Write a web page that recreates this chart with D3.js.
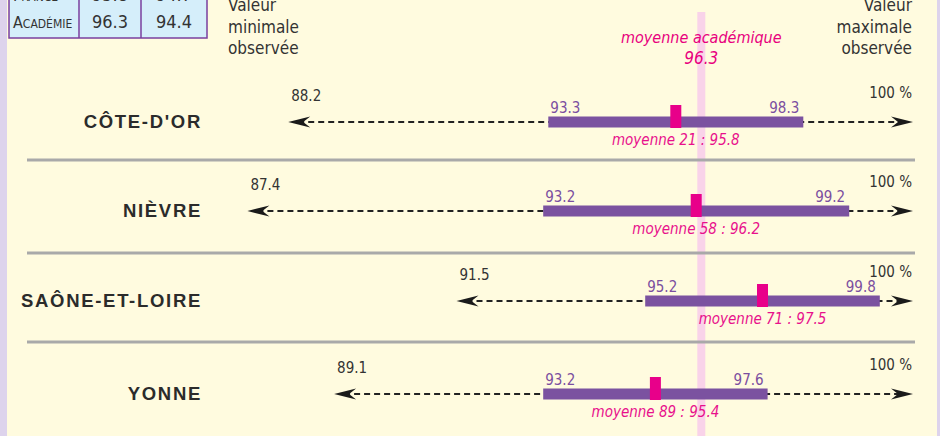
<!DOCTYPE html>
<html>
<head>
<meta charset="utf-8">
<script src="https://cdn.jsdelivr.net/npm/d3@7"></script>
<style>
body { margin: 0; background: #fffbdf; }
svg { display: block; }
text { font-family: "DejaVu Sans Condensed", "Liberation Sans Narrow", "Arial Narrow", sans-serif; }
</style>
</head>
<body>
<script>
const width = 940, height = 436;

// data
const regions = ["CÔTE-D'OR", "NIÈVRE", "SAÔNE-ET-LOIRE", "YONNE"];
const deptCodes = ["21", "58", "71", "89"];
const minObs = [88.2, 87.4, 91.5, 89.1];
const lowBar = [93.3, 93.2, 95.2, 93.2];
const highBar = [98.3, 99.2, 99.8, 97.6];
const deptMean = [95.8, 96.2, 97.5, 95.4];
const maxObs = [100, 100, 100, 100];
const academyMean = 96.3;
const tableRows = ["FRANCE", "ACADÉMIE"];
const tableCol1 = ["95.8", "96.3"];
const tableCol2 = ["94.7", "94.4"];

const rowY = [122, 211, 301, 394];
const sepY = [160, 253, 342];

const svg = d3.select("body").append("svg")
.attr("width", width)
.attr("height", height);

svg.append("rect").attr("width", width).attr("height", height).attr("fill", "#fffbdf");
svg.append("rect").attr("x", 0).attr("width", 7).attr("height", height).attr("fill", "#ddd3ec");
svg.append("rect").attr("x", 937).attr("width", 3).attr("height", height).attr("fill", "#ddd3ec");

const x = d3.scaleLinear().domain([86, 100]).range([176, 890]);

// academy mean band
svg.append("rect")
.attr("x", x(academyMean) - 4).attr("width", 8)
.attr("y", 12).attr("height", height - 12)
.attr("fill", "#f9d3e9");

svg.append("text")
.attr("x", x(academyMean)).attr("y", 43)
.attr("text-anchor", "middle")
.attr("font-size", 16).attr("font-style", "italic")
.attr("fill", "#e8007e")
.text("moyenne académique");
svg.append("text")
.attr("x", x(academyMean)).attr("y", 64)
.attr("text-anchor", "middle")
.attr("font-size", 17).attr("font-style", "italic")
.attr("fill", "#e8007e")
.text(academyMean);

// headers
const hdrL = svg.append("text").attr("font-size", 17).attr("fill", "#333");
["Valeur", "minimale", "observée"].forEach((t, i) =>
  hdrL.append("tspan").attr("x", 228).attr("y", 11 + i * 21.5).text(t));
const hdrR = svg.append("text").attr("font-size", 17).attr("fill", "#333").attr("text-anchor", "end");
["Valeur", "maximale", "observée"].forEach((t, i) =>
  hdrR.append("tspan").attr("x", 912).attr("y", 11 + i * 21.5).text(t));

// table top left
const tbl = svg.append("g");
tbl.append("rect").attr("x", 9).attr("y", -30).attr("width", 198).attr("height", 68)
.attr("fill", "#d5eefa").attr("stroke", "#7a3f9e").attr("stroke-width", 1.5);
[79, 141].forEach(cx => tbl.append("line").attr("x1", cx).attr("x2", cx).attr("y1", -30).attr("y2", 38)
  .attr("stroke", "#7a3f9e").attr("stroke-width", 1.5));
tableRows.forEach((r, i) => {
  const y = 1 + i * 27;
  const t = tbl.append("text").attr("x", 13).attr("y", y).attr("fill", "#333").attr("font-size", 16);
  t.append("tspan").text(r[0]);
  t.append("tspan").attr("font-size", 12).text(r.slice(1));
  tbl.append("text").attr("x", 110).attr("y", y).attr("text-anchor", "middle")
    .attr("font-size", 18).attr("fill", "#333").text(tableCol1[i]);
  tbl.append("text").attr("x", 174).attr("y", y).attr("text-anchor", "middle")
    .attr("font-size", 18).attr("fill", "#333").text(tableCol2[i]);
});

// separators
svg.selectAll(".sep").data(sepY).join("line")
.attr("x1", 27).attr("x2", 915)
.attr("y1", d => d).attr("y2", d => d)
.attr("stroke", "#a9a9a9").attr("stroke-width", 3);

const rows = svg.selectAll(".row").data(regions).join("g")
.attr("transform", (d, i) => `translate(0,${rowY[i]})`);

rows.append("text")
.attr("x", 202).attr("y", 6)
.attr("text-anchor", "end")
.style("font-family", "'Liberation Sans', Arial, sans-serif")
.attr("font-weight", "bold").attr("font-size", 18.5)
.attr("letter-spacing", 1.7)
.attr("fill", "#2b2b2b")
.text(d => d);

// dashed range line
rows.append("line")
.attr("x1", (d, i) => x(minObs[i]) + 10)
.attr("x2", (d, i) => x(maxObs[i]) + 8)
.attr("stroke", "#222").attr("stroke-width", 2)
.attr("stroke-dasharray", "6,4");

const head = "M0,0 L-22,-5.5 L-15,0 L-22,5.5 Z";
rows.append("path")
.attr("d", head)
.attr("transform", (d, i) => `translate(${x(maxObs[i]) + 23},0)`)
.attr("fill", "#1a1a1a");
rows.append("path")
.attr("d", head)
.attr("transform", (d, i) => `translate(${x(minObs[i])},0) scale(-1,1)`)
.attr("fill", "#1a1a1a");

rows.append("text")
.attr("x", (d, i) => x(minObs[i]) + 3).attr("y", -21)
.attr("font-size", 15).attr("fill", "#333")
.text((d, i) => minObs[i]);
rows.append("text")
.attr("x", 912).attr("y", -24)
.attr("text-anchor", "end")
.attr("font-size", 15).attr("fill", "#333")
.text((d, i) => maxObs[i] + " %");

// purple bar
rows.append("rect")
.attr("x", (d, i) => x(lowBar[i]))
.attr("width", (d, i) => x(highBar[i]) - x(lowBar[i]))
.attr("y", -5.5).attr("height", 11)
.attr("fill", "#7b52a0");

rows.append("text")
.attr("x", (d, i) => x(lowBar[i]) + 2).attr("y", -9)
.attr("font-size", 15).attr("fill", "#7b4ea0")
.text((d, i) => lowBar[i]);
rows.append("text")
.attr("x", (d, i) => x(highBar[i]) - 4).attr("y", -9)
.attr("text-anchor", "end")
.attr("font-size", 15).attr("fill", "#7b4ea0")
.text((d, i) => highBar[i]);

// department mean marker
rows.append("rect")
.attr("x", (d, i) => x(deptMean[i]) - 5.5)
.attr("width", 11)
.attr("y", -17).attr("height", 23)
.attr("fill", "#e8008a");

rows.append("text")
.attr("x", (d, i) => x(deptMean[i]))
.attr("y", 23)
.attr("text-anchor", "middle")
.attr("font-size", 15).attr("font-style", "italic")
.attr("fill", "#e8108c")
.text((d, i) => `moyenne ${deptCodes[i]} : ${deptMean[i]}`);
</script>
</body>
</html>
